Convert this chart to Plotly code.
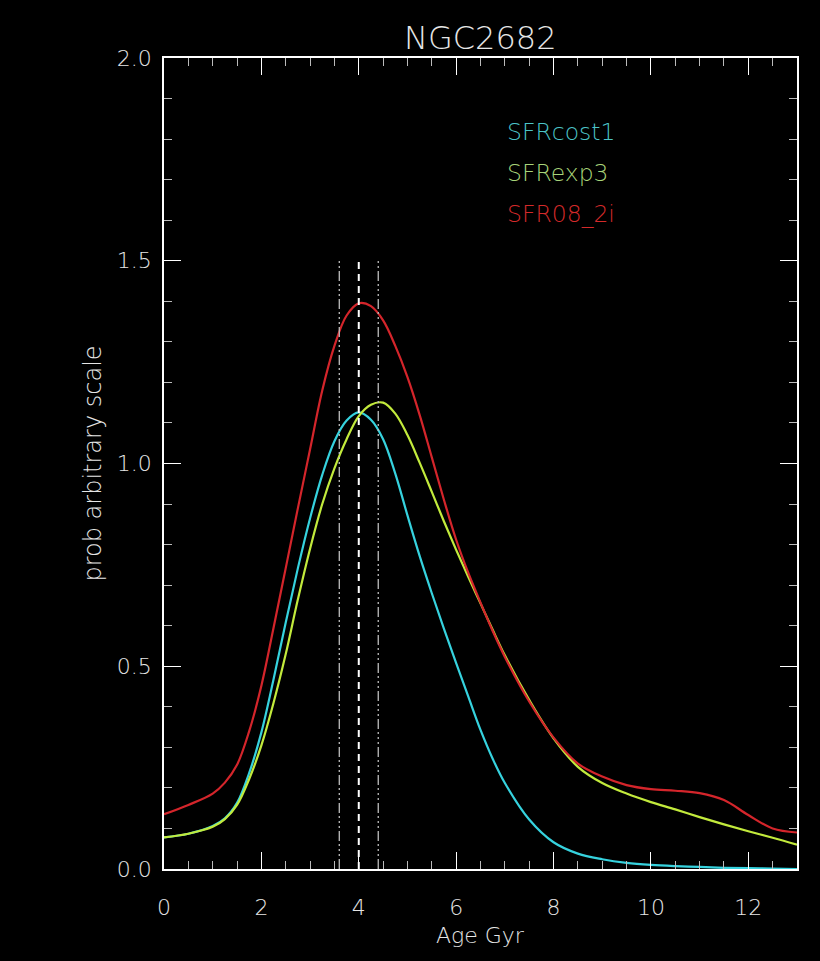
import plotly.graph_objects as go

# ---- data ----
age = [0, 0.5, 1.0, 1.25, 1.5, 1.75, 2.0, 2.25, 2.5, 2.75, 3.0, 3.25, 3.5, 3.75,
       4.0, 4.25, 4.5, 4.75, 5.0, 5.25, 5.5, 5.75, 6.0, 6.25, 6.5, 6.75, 7.0,
       7.5, 8.0, 8.5, 9.0, 9.5, 10.0, 10.5, 11.0, 11.5, 12.0, 12.5, 13.0]

sfr_cost1 = [0.078, 0.087, 0.106, 0.125, 0.163, 0.237, 0.337, 0.468, 0.608, 0.742,
             0.865, 0.972, 1.055, 1.106, 1.126, 1.108, 1.06, 0.975, 0.872, 0.772,
             0.68, 0.592, 0.508, 0.425, 0.343, 0.272, 0.212,
             0.122, 0.066, 0.038, 0.024, 0.015, 0.010, 0.007, 0.005, 0.003,
             0.002, 0.001, 0.0]

sfr_exp3 = [0.078, 0.087, 0.104, 0.123, 0.158, 0.222, 0.305, 0.41, 0.53, 0.665,
            0.79, 0.9, 0.988, 1.06, 1.117, 1.145, 1.15, 1.123, 1.07, 1.002,
            0.93, 0.857, 0.787, 0.72, 0.655, 0.59, 0.527,
            0.417, 0.322, 0.252, 0.212, 0.186, 0.165, 0.147, 0.128, 0.11,
            0.093, 0.077, 0.06]

sfr08_2i = [0.135, 0.158, 0.186, 0.213, 0.257, 0.34, 0.452, 0.595, 0.742, 0.89,
            1.035, 1.18, 1.29, 1.365, 1.395, 1.388, 1.353, 1.29, 1.213, 1.12,
            1.015, 0.91, 0.812, 0.73, 0.657, 0.587, 0.523,
            0.413, 0.324, 0.26, 0.228, 0.207, 0.197, 0.193, 0.187, 0.17,
            0.133, 0.10, 0.09]

series_names = ["SFRcost1", "SFRexp3", "SFR08_2i"]
series_colors = ["#36d2de", "#c2ea3c", "#d4252b"]
label_colors = ["#4cc4c8", "#a8d47a", "#d42a2a"]

best_age = 4.0
err_ages = [3.6, 4.4]
vline_top = 1.5

x_ticks = [0, 2, 4, 6, 8, 10, 12]
y_ticks = [0.0, 0.5, 1.0, 1.5, 2.0]
y_ticklabels = ["0.0", "0.5", "1.0", "1.5", "2.0"]

FONT = "DejaVu Sans, sans-serif"
TXT = "#e6e6e6"
W = 200

fig = go.Figure()

for ys, name, col in zip([sfr_cost1, sfr_exp3, sfr08_2i], series_names, series_colors):
    fig.add_trace(go.Scatter(x=age, y=ys, mode="lines", name=name,
                             line=dict(color=col, width=2.2, shape="spline", smoothing=1.0),
                             showlegend=False))

for xa in err_ages:
    fig.add_trace(go.Scatter(x=[xa, xa], y=[0, vline_top], mode="lines",
                             line=dict(color="#bdbdbd", width=1.3,
                                       dash="10px,3px,2px,3px,2px,3px,2px,3px"),
                             showlegend=False, hoverinfo="skip"))
fig.add_trace(go.Scatter(x=[best_age, best_age], y=[0, vline_top], mode="lines",
                         line=dict(color="#ffffff", width=2, dash="7px,5px"),
                         showlegend=False, hoverinfo="skip"))

axis_common = dict(
    showgrid=False, zeroline=False, showline=True, linecolor="#ffffff", linewidth=1.5,
    mirror="ticks", ticks="inside", tickcolor="#ffffff", tickwidth=1.2,
    tickfont=dict(family=FONT, size=22, color=TXT, weight=W),
)

fig.update_xaxes(range=[0, 13], tickvals=x_ticks, ticklen=17,
                 minor=dict(dtick=0.5, ticklen=8, ticks="inside", tickcolor="#bbbbbb", tickwidth=1.2),
                 ticklabelstandoff=18, **axis_common)
fig.update_yaxes(range=[0, 2.0], tickvals=y_ticks, ticktext=y_ticklabels, ticklen=17,
                 minor=dict(dtick=0.1, ticklen=8, ticks="inside", tickcolor="#bbbbbb", tickwidth=1.2),
                 ticklabelstandoff=6, **axis_common)

annotations = [
    dict(text="NGC2682", x=0.5, y=1.0, xref="paper", yref="paper", yshift=20,
         showarrow=False, font=dict(family=FONT, size=32, color=TXT, weight=W), yanchor="middle"),
    dict(text="Age Gyr", x=0.5, y=0.0, xref="paper", yref="paper", yshift=-66,
         showarrow=False, font=dict(family=FONT, size=22, color=TXT, weight=W), yanchor="middle"),
    dict(text="prob arbitrary scale", x=0.0, y=0.5, xref="paper", yref="paper", xshift=-72,
         showarrow=False, textangle=-90, font=dict(family=FONT, size=24, color=TXT, weight=W),
         xanchor="center"),
]
leg_y = [0.909, 0.858, 0.808]
for name, col, yy in zip(series_names, label_colors, leg_y):
    annotations.append(dict(text=name, x=0.538, y=yy, xref="paper", yref="paper",
                            xanchor="left", yanchor="middle", showarrow=False,
                            font=dict(family=FONT, size=23.5, color=col, weight=W)))

fig.update_layout(
    width=820, height=961,
    margin=dict(l=164, r=23, t=58, b=92),
    paper_bgcolor="#000000", plot_bgcolor="#000000",
    annotations=annotations,
    showlegend=False,
)

fig.write_html("out.html")
